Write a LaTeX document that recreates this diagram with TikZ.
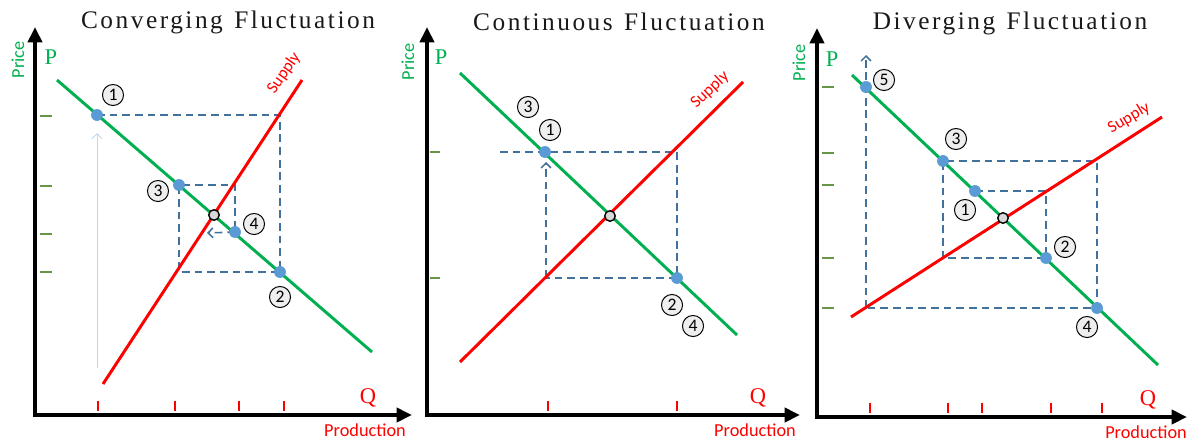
\documentclass[tikz,border=0pt]{standalone}
\usepackage{fontspec}
\usepackage{xcolor}
\usepackage{tikz}
\usetikzlibrary{arrows.meta, positioning, calc}
\newfontfamily\calfont{Carlito}
\newfontfamily\serfont{Liberation Serif}
\newfontfamily\spacedfont[LetterSpace=10]{Liberation Serif}
\definecolor{dgreen}{RGB}{0,176,80}
\definecolor{sred}{RGB}{255,0,0}
\definecolor{ptblue}{RGB}{91,155,213}
\definecolor{dashblue}{RGB}{65,113,156}
\definecolor{tickgreen}{RGB}{104,150,72}
\definecolor{paleblue}{RGB}{189,215,238}
\definecolor{eqgray}{RGB}{217,217,217}
\definecolor{numgray}{RGB}{238,238,238}
\tikzset{
  axis/.style={line width=3.4pt, {Triangle[length=11pt,width=10pt]}-{Triangle[length=11pt,width=10pt]}},
  demand/.style={line width=2.1pt, color=dgreen},
  supply/.style={line width=2.1pt, color=sred},
  guide/.style={line width=1.1pt, color=dashblue, dash pattern=on 5.5pt off 3.5pt},
  guidearrow/.style={guide, -{Straight Barb[length=3.5pt,width=7pt]}},
  palearrow/.style={line width=0.7pt, color=paleblue, -{Straight Barb[length=3.5pt,width=7pt]}},
  dot/.style={circle, fill=ptblue, inner sep=0pt, minimum size=8.2pt},
  eqdot/.style={circle, draw=black, fill=eqgray, line width=1pt, inner sep=0pt, minimum size=7.5pt},
  num/.style={circle, draw=black, fill=numgray, line width=0.7pt, inner sep=0pt,
    minimum size=15pt, font=\calfont\fontsize{12.5}{12.5}\selectfont},
  ptick/.style={line width=1.1pt, color=tickgreen},
  qtick/.style={line width=1.1pt, color=sred},
  charttitle/.style={font=\spacedfont\fontsize{18}{20}\selectfont, color=black!90},
  pricelbl/.style={rotate=90, color=dgreen, font=\calfont\fontsize{13}{14}\selectfont},
  prodlbl/.style={color=sred, font=\calfont\fontsize{13}{14}\selectfont},
  supplylbl/.style={color=sred, font=\calfont\fontsize{12}{13}\selectfont},
  plbl/.style={color=dgreen, font=\serfont\fontsize{16}{18}\selectfont},
  qlbl/.style={color=sred, font=\serfont\fontsize{16}{18}\selectfont}
}

\begin{document}
\begin{tikzpicture}[x=0.025cm, y=-0.025cm]
  \useasboundingbox (0,0) rectangle (1189,441);

  % Converging
  \node[charttitle] (cvtitle) at (228,22) {Converging\hspace{0.45em}Fluctuation};
  \coordinate (cvo) at (35,415);
  \coordinate (cvy) at (35,27);
  \coordinate (cvx) at (412,415);
  \foreach \y in {116,186,234,272} \draw[ptick] (40,\y) -- (52,\y);
  \foreach \x in {98,175,239,284} \draw[qtick] (\x,401) -- (\x,411);
  \draw[axis] (cvy) -- (cvo) -- (cvx);
  \node[pricelbl] (cvprice) at (18,60) {Price};
  \node[plbl] (cvp) at (51,57) {P};
  \node[qlbl] (cvq) at (368,398) {Q};
  \node[prodlbl] (cvprod) at (365,430) {Production};

  \node[dot] (cv1) at (97,115) {};
  \node[dot] (cv2) at (280,272) {};
  \node[dot] (cv3) at (179,185) {};
  \node[dot] (cv4) at (235,232) {};
  \coordinate (cvend) at (207,233);
  \coordinate (cvstart) at (97,368);
  \coordinate (cvtip) at (97,133);
  \draw[guide] (cv1.center) -- (cv1 -| cv2) -- (cv2.center) -- (cv3 |- cv2)
    -- (cv3.center) -- (cv3 -| cv4) -- (cv4.center);
  \draw[guidearrow] (cv4.center) -- (cvend);
  \draw[palearrow] (cvstart) -- (cvtip);

  \coordinate (cvd1) at (57,80);
  \coordinate (cvd2) at (372,352);
  \coordinate (cvs1) at (103,384);
  \coordinate (cvs2) at (302,80);
  \draw[demand] (cvd1) -- (cvd2);
  \draw[supply] (cvs1) -- (cvs2);
  \node[supplylbl, rotate=55] (cvsup) at (284,73) {Supply};
  \node[eqdot] (cve) at (214,215) {};
  \node[dot] at (cv1) {};
  \node[dot] at (cv2) {};
  \node[dot] at (cv3) {};
  \node[dot] at (cv4) {};
  \node[num] (cvn1) at (113,95) {1};
  \node[num] (cvn2) at (280,297) {2};
  \node[num] (cvn3) at (158,191) {3};
  \node[num] (cvn4) at (254,224) {4};

  % Continuous
  \node[charttitle] (cttitle) at (619,22) {Continuous\hspace{0.45em}Fluctuation};
  \coordinate (cto) at (427,415);
  \coordinate (cty) at (427,27);
  \coordinate (ctx) at (800,415);
  \foreach \y in {152,278} \draw[ptick] (430,\y) -- (440,\y);
  \foreach \x in {548,677} \draw[qtick] (\x,401) -- (\x,411);
  \draw[axis] (cty) -- (cto) -- (ctx);
  \node[pricelbl] (ctprice) at (408,62) {Price};
  \node[plbl] (ctp) at (441,57) {P};
  \node[qlbl] (ctq) at (758,398) {Q};
  \node[prodlbl] (ctprod) at (755,430) {Production};

  \node[dot] (ct1) at (545,152) {};
  \node[dot] (ct2) at (677,278) {};
  \coordinate (ctleft) at (500,152);
  \coordinate (ctlow) at (546,278);
  \coordinate (cttip) at (546,162);
  \draw[guide] (ctleft) -- (ct1 -| ct2) -- (ct2.center) -- (ctlow);
  \draw[guidearrow] (ctlow) -- (cttip);

  \coordinate (ctd1) at (460,73);
  \coordinate (ctd2) at (737,335);
  \coordinate (cts1) at (460,362);
  \coordinate (cts2) at (743,82);
  \draw[demand] (ctd1) -- (ctd2);
  \draw[supply] (cts1) -- (cts2);
  \node[supplylbl, rotate=43] (ctsup) at (710,90) {Supply};
  \node[eqdot] (cte) at (610,216) {};
  \node[dot] at (ct1) {};
  \node[dot] at (ct2) {};
  \node[num] (ctn3) at (528,107) {3};
  \node[num] (ctn1) at (550,130) {1};
  \node[num] (ctn2) at (672,305) {2};
  \node[num] (ctn4) at (693,326) {4};

  % Diverging
  \node[charttitle] (dvtitle) at (1010,23) {Diverging\hspace{0.45em}Fluctuation};
  \coordinate (dvo) at (817,417);
  \coordinate (dvy) at (817,28);
  \coordinate (dvx) at (1187,417);
  \foreach \y in {87,153,185,258,308} \draw[ptick] (822,\y) -- (834,\y);
  \foreach \x in {870,948,982,1051,1102} \draw[qtick] (\x,403) -- (\x,413);
  \draw[axis] (dvy) -- (dvo) -- (dvx);
  \node[pricelbl] (dvprice) at (799,63) {Price};
  \node[plbl] (dvp) at (832,59) {P};
  \node[qlbl] (dvq) at (1148,400) {Q};
  \node[prodlbl] (dvprod) at (1146,432) {Production};

  \node[dot] (dv1) at (975,191) {};
  \node[dot] (dv2) at (1046,258) {};
  \node[dot] (dv3) at (943,161) {};
  \node[dot] (dv4) at (1097,308) {};
  \node[dot] (dv5) at (866,87) {};
  \coordinate (dvtip) at (866,55);
  \draw[guide] (dv1.center) -- (dv1 -| dv2) -- (dv2.center) -- (dv3 |- dv2)
    -- (dv3.center) -- (dv3 -| dv4) -- (dv4.center) -- (dv5 |- dv4);
  \draw[guidearrow] (dv5 |- dv4) -- (dvtip);

  \coordinate (dvd1) at (852,75);
  \coordinate (dvd2) at (1158,365);
  \coordinate (dvs1) at (851,317);
  \coordinate (dvs2) at (1162,117);
  \draw[demand] (dvd1) -- (dvd2);
  \draw[supply] (dvs1) -- (dvs2);
  \node[supplylbl, rotate=31] (dvsup) at (1129,118) {Supply};
  \node[eqdot] (dve) at (1003,218) {};
  \node[dot] at (dv1) {};
  \node[dot] at (dv2) {};
  \node[dot] at (dv3) {};
  \node[dot] at (dv4) {};
  \node[dot] at (dv5) {};
  \node[num] (dvn5) at (884,80) {5};
  \node[num] (dvn3) at (956,139) {3};
  \node[num] (dvn1) at (965,210) {1};
  \node[num] (dvn2) at (1065,247) {2};
  \node[num] (dvn4) at (1087,327) {4};
\end{tikzpicture}
\end{document}
